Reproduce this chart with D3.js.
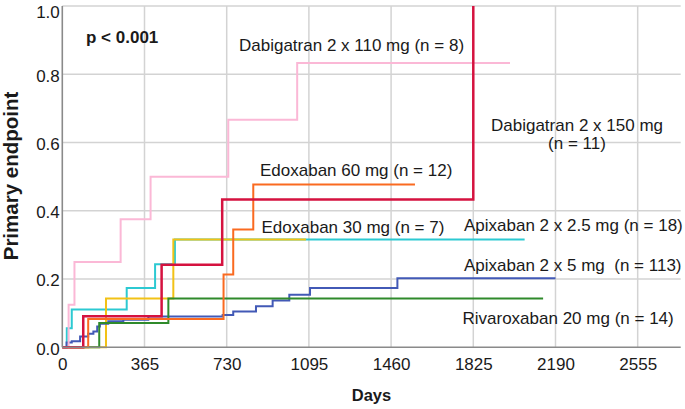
<!DOCTYPE html>
<html>
<head>
<meta charset="utf-8">
<script src="https://cdn.jsdelivr.net/npm/d3@7"></script>
<style>
  html, body { margin: 0; padding: 0; background: #fff; }
  svg { display: block; }
  text { font-family: "Liberation Sans", Arial, sans-serif; }
</style>
</head>
<body>
<svg id="chart" width="685" height="409"></svg>
<script>
// ---- Data ----
const xTicks = [0, 365, 730, 1095, 1460, 1825, 2190, 2555];
const yTicks = [0.0, 0.2, 0.4, 0.6, 0.8, 1.0];

const dabi110Days = [0, 28, 54, 259, 392, 737, 1043, 1988];
const dabi110Vals = [0, 0.125, 0.25, 0.375, 0.5, 0.667, 0.833, 0.833];

const dabi150Days = [0, 93, 441, 710, 1825];
const dabi150Vals = [0, 0.091, 0.242, 0.433, 1.0];

const edo60Days = [0, 115, 716, 759, 848, 1566];
const edo60Vals = [0, 0.083, 0.213, 0.345, 0.477, 0.477];

const edo30Days = [0, 194, 493, 1082];
const edo30Vals = [0, 0.143, 0.316, 0.316];

const api25Days = [0, 20, 42, 286, 412, 500, 2053];
const api25Vals = [0, 0.056, 0.111, 0.174, 0.243, 0.316, 0.316];

const api5Days = [0, 19, 42, 79, 115, 138, 155, 167, 204, 271, 382, 712, 759, 860, 934, 1008, 1100, 1488, 2190];
const api5Vals = [0, 0.014, 0.018, 0.032, 0.040, 0.046, 0.061, 0.069, 0.076, 0.081, 0.090, 0.095, 0.105, 0.120, 0.137, 0.154, 0.174, 0.202, 0.202];

const riva20Days = [0, 164, 471, 2135];
const riva20Vals = [0, 0.071, 0.143, 0.143];

const seriesNames = ["Apixaban 2 x 2.5 mg", "Edoxaban 30 mg", "Apixaban 2 x 5 mg", "Rivaroxaban 20 mg", "Edoxaban 60 mg", "Dabigatran 2 x 110 mg", "Dabigatran 2 x 150 mg"];
const seriesColors = ["#2cc9d2", "#f2c216", "#4259b6", "#2f8a2b", "#fa6a20", "#fbb8d6", "#d5123f"];
const seriesWidths = [2, 2, 2, 2, 2, 2, 2.5];
const seriesDays = [api25Days, edo30Days, api5Days, riva20Days, edo60Days, dabi110Days, dabi150Days];
const seriesVals = [api25Vals, edo30Vals, api5Vals, riva20Vals, edo60Vals, dabi110Vals, dabi150Vals];

const labelTexts = ["Dabigatran 2 x 110 mg (n = 8)", "Edoxaban 60 mg (n = 12)", "Edoxaban 30 mg (n = 7)",
  "Apixaban 2 x 2.5 mg (n = 18)", "Apixaban 2 x 5 mg  (n = 113)", "Rivaroxaban 20 mg (n = 14)"];
const labelPos = [[239, 51], [260, 176], [261.5, 232.5], [464, 231], [464, 271], [462.5, 324]];

// ---- Layout ----
const svg = d3.select("#chart");
const x = d3.scaleLinear().domain([0, 2746]).range([62.3, 680.7]);
const y = d3.scaleLinear().domain([0, 1]).range([347.3, 6]);

// gridlines
const grid = svg.append("g");
grid.selectAll("line.v").data(xTicks.filter(d => d > 0)).join("line")
  .attr("x1", d => x(d)).attr("x2", d => x(d))
  .attr("y1", y(0)).attr("y2", y(1))
  .attr("stroke", "#d3d3d3").attr("stroke-width", 1.5);
grid.selectAll("line.h").data(yTicks.filter(d => d > 0)).join("line")
  .attr("x1", x(0)).attr("x2", x.range()[1])
  .attr("y1", d => y(d)).attr("y2", d => y(d))
  .attr("stroke", "#d3d3d3").attr("stroke-width", 1.5);

// series
const line = d3.line().x(d => x(d[0])).y(d => y(d[1])).curve(d3.curveStepAfter);
const lines = svg.append("g").attr("fill", "none");
seriesNames.forEach((name, i) => {
  const pts = seriesDays[i].map((d, j) => [d, seriesVals[i][j]]);
  lines.append("path").datum(pts)
    .attr("d", line)
    .attr("stroke", seriesColors[i])
    .attr("stroke-width", seriesWidths[i])
    .attr("stroke-linejoin", "miter")
    .attr("stroke-linecap", "butt");
});

// axes
const xAxis = d3.axisBottom(x).tickValues(xTicks).tickSize(0).tickPadding(11).tickFormat(d3.format("d"));
const yAxis = d3.axisLeft(y).tickValues(yTicks).tickSize(0).tickPadding(2.5).tickFormat(d3.format(".1f"));
const gx = svg.append("g").attr("transform", `translate(0,${y(0)})`).call(xAxis);
const gy = svg.append("g").attr("transform", `translate(${x(0)},0)`).call(yAxis);
[gx, gy].forEach(g => {
  g.select(".domain").attr("stroke", "#8a8a8a").attr("stroke-width", 1.6);
  g.selectAll("text").attr("font-size", 17).attr("fill", "#1a1a1a")
    .attr("font-family", "'Liberation Sans', Arial, sans-serif");
});
// top label sits slightly lower so it stays inside the frame
gy.selectAll(".tick text").attr("dy", d => d === 1 ? "0.68em" : "0.4em");
gx.select(".domain").attr("d", `M${x(0)},0H${x.range()[1]}`);
gy.select(".domain").attr("d", `M0,${y(0)}V${y(1)}`);

// axis titles
svg.append("text").attr("x", 371.5).attr("y", 401).attr("text-anchor", "middle")
  .attr("font-size", 16.5).attr("font-weight", "bold").attr("fill", "#1a1a1a").text("Days");
svg.append("text").attr("transform", "translate(17.5,176) rotate(-90)").attr("text-anchor", "middle")
  .attr("font-size", 20.5).attr("font-weight", "bold").attr("fill", "#1a1a1a").text("Primary endpoint");

// p-value
svg.append("text").attr("x", 86).attr("y", 42.5).attr("font-size", 17).attr("font-weight", "bold")
  .attr("fill", "#1a1a1a").text("p < 0.001");

// series labels
svg.append("g").selectAll("text").data(labelTexts).join("text")
  .attr("x", (d, i) => labelPos[i][0]).attr("y", (d, i) => labelPos[i][1])
  .attr("font-size", 17).attr("fill", "#1a1a1a").style("white-space", "pre")
  .text(d => d);
const d150 = svg.append("text").attr("text-anchor", "middle").attr("font-size", 17).attr("fill", "#1a1a1a");
d150.append("tspan").attr("x", 577).attr("y", 131).text("Dabigatran 2 x 150 mg");
d150.append("tspan").attr("x", 577).attr("y", 148.5).text("(n = 11)");
</script>
</body>
</html>
